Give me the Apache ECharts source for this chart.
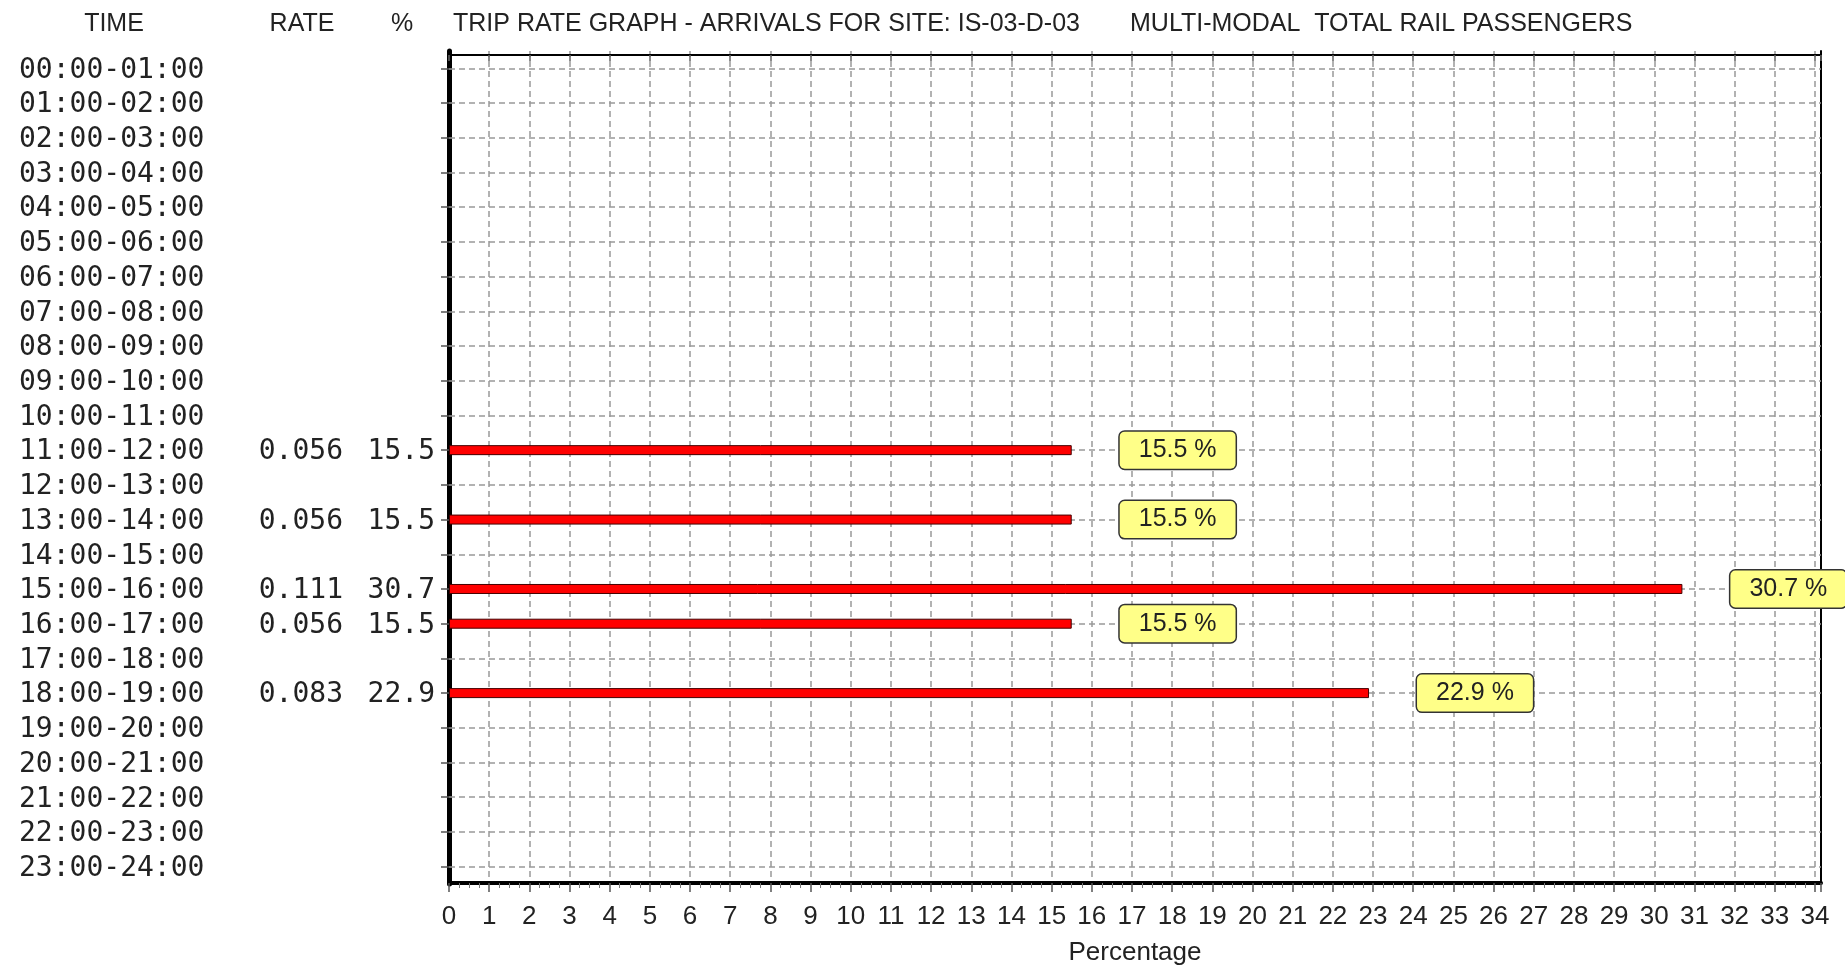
<!DOCTYPE html>
<html><head><meta charset="utf-8">
<script src="https://cdn.jsdelivr.net/npm/echarts@6/dist/echarts.min.js"></script>
<style>html,body{margin:0;padding:0;background:#fff}#c{width:1845px;height:968px}</style>
</head><body><div id="c"></div>
<script>
const timeSlots = ['00:00-01:00','01:00-02:00','02:00-03:00','03:00-04:00','04:00-05:00','05:00-06:00',
  '06:00-07:00','07:00-08:00','08:00-09:00','09:00-10:00','10:00-11:00','11:00-12:00',
  '12:00-13:00','13:00-14:00','14:00-15:00','15:00-16:00','16:00-17:00','17:00-18:00',
  '18:00-19:00','19:00-20:00','20:00-21:00','21:00-22:00','22:00-23:00','23:00-24:00'];
const rates = [null,null,null,null,null,null,null,null,null,null,null,0.056,
  null,0.056,null,0.111,0.056,null,0.083,null,null,null,null,null];
const percents = [null,null,null,null,null,null,null,null,null,null,null,15.5,
  null,15.5,null,30.7,15.5,null,22.9,null,null,null,null,null];
const xMin = 0, xMax = 34, xInterval = 1;
const headerTime = 'TIME', headerRate = 'RATE', headerPct = '%';
const titleText = 'TRIP RATE GRAPH - ARRIVALS FOR SITE: IS-03-D-03';
const subTitleText = 'MULTI-MODAL  TOTAL RAIL PASSENGERS';
const xAxisName = 'Percentage';

const SANS = "'Liberation Sans', Arial, sans-serif";
const MONO = "'DejaVu Sans Mono', 'Liberation Mono', monospace";
const axisEnd = xMax + 0.15;

const chart = echarts.init(document.getElementById('c'), null, {renderer: 'canvas'});
const hdr = (text, x, align) => ({
  type: 'text', x: x, y: 24,
  style: {text: text, font: '25px ' + SANS, fill: '#222', align: align, verticalAlign: 'middle'}
});
chart.setOption({
  animation: false,
  backgroundColor: '#fff',
  grid: {left: 449, right: 1845 - 1821, top: 51, bottom: 968 - 884, containLabel: false, outerBoundsMode: 'none'},
  graphic: [
    hdr(headerTime, 114, 'center'),
    hdr(headerRate, 302, 'center'),
    hdr(headerPct, 402, 'center'),
    hdr(titleText, 453, 'left'),
    hdr(subTitleText, 1130, 'left')
  ],
  xAxis: [{
    type: 'value', position: 'bottom', offset: -1, min: xMin, max: axisEnd, interval: xInterval,
    axisLine: {show: true, onZero: false, lineStyle: {color: '#000', width: 4}},
    axisTick: {show: true, length: 9, lineStyle: {color: '#555', width: 1.5}},
    minorTick: {show: true, splitNumber: 4, length: 5, lineStyle: {color: '#777', width: 1}},
    axisLabel: {fontSize: 26, color: '#222', fontFamily: SANS, margin: 21,
      formatter: v => (Number.isInteger(v) ? String(v) : '')},
    splitLine: {show: true, lineStyle: {type: [6, 4], color: '#999', width: 1.5}},
    name: xAxisName, nameLocation: 'middle', nameGap: 57,
    nameTextStyle: {fontSize: 26, color: '#222', fontFamily: SANS}
  }, {
    type: 'value', position: 'top', offset: -4, min: xMin, max: axisEnd, interval: xInterval,
    axisLine: {show: true, onZero: false, lineStyle: {color: '#000', width: 2}},
    axisTick: {show: true, inside: true, length: 6, lineStyle: {color: '#666', width: 1.5}},
    axisLabel: {show: false}, splitLine: {show: false}
  }],
  yAxis: [{
    type: 'category', data: timeSlots, inverse: true,
    axisLine: {show: true, onZero: false, lineStyle: {color: '#000', width: 5}},
    axisTick: {show: true, interval: 0, alignWithLabel: true, length: 8, lineStyle: {color: '#555', width: 1.5}},
    splitLine: {show: false},
    axisLabel: {
      interval: 0,
      align: 'left', margin: 430, fontFamily: MONO, fontSize: 28, color: '#222',
      formatter: (value, idx) => {
        const r = rates[idx] == null ? ' ' : rates[idx].toFixed(3);
        const p = percents[idx] == null ? ' ' : percents[idx].toFixed(1);
        return '{t|' + value + '}{r|' + r + '}{p|' + p + '}';
      },
      rich: {
        t: {width: 220, align: 'left', fontFamily: MONO, fontSize: 28, color: '#222', padding: [4, 0, 0, 0]},
        r: {width: 104, align: 'right', fontFamily: MONO, fontSize: 28, color: '#222', padding: [4, 0, 0, 0]},
        p: {width: 92, align: 'right', fontFamily: MONO, fontSize: 28, color: '#222', padding: [4, 0, 0, 0]}
      }
    }
  }, {
    type: 'category', data: timeSlots, inverse: true, position: 'right',
    axisLine: {show: true, onZero: false, lineStyle: {color: '#000', width: 2}},
    axisTick: {show: false}, axisLabel: {show: false}, splitLine: {show: false}
  }],
  series: [{
    type: 'bar', xAxisIndex: 0, yAxisIndex: 0, z: 3,
    data: percents,
    barWidth: 10,
    itemStyle: {color: '#ff0000', borderColor: '#400', borderWidth: 1},
    label: {
      show: true, position: 'right', distance: 48,
      formatter: p => (p.value == null ? '' : p.value.toFixed(1) + ' %'),
      fontFamily: SANS, fontSize: 25, color: '#222',
      backgroundColor: '#ffff88', borderColor: '#333', borderWidth: 1.5, borderRadius: 5,
      padding: [7, 19, 5, 19]
    },
    markLine: {
      silent: true, z: 1, symbol: ['none', 'none'],
      label: {show: false},
      lineStyle: {type: [6, 4], color: '#999', width: 1.5},
      data: timeSlots.map(s => ({yAxis: s}))
    }
  }]
});
</script></body></html>
